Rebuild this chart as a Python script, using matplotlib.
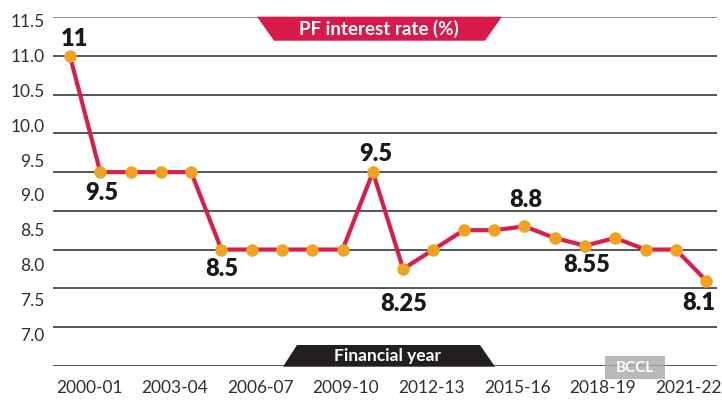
import matplotlib
import matplotlib.pyplot as plt
from matplotlib import patches

matplotlib.use('Agg')

plt.rcParams['font.family'] = ['Lato', 'DejaVu Sans']

years = ['2000-01', '2001-02', '2002-03', '2003-04', '2004-05', '2005-06',
         '2006-07', '2007-08', '2008-09', '2009-10', '2010-11', '2011-12',
         '2012-13', '2013-14', '2014-15', '2015-16', '2016-17', '2017-18',
         '2018-19', '2019-20', '2020-21', '2021-22']
rates = [11, 9.5, 9.5, 9.5, 9.5, 8.5, 8.5, 8.5, 8.5, 8.5, 9.5, 8.25,
         8.5, 8.75, 8.75, 8.8, 8.65, 8.55, 8.65, 8.5, 8.5, 8.1]

grid_vals = [7.0, 7.5, 8.0, 8.5, 9.0, 9.5, 10.0, 10.5, 11.0, 11.5]
y_labels = ['7.0', '7.5', '8.0', '8.5', '9.0', '9.5', '10.0', '10.5', '11.0', '11.5']
x_labels = ['2000-01', '2003-04', '2006-07', '2009-10', '2012-13', '2015-16',
            '2018-19', '2021-22']

# labelled points: index into years, text
ann_idx = [0, 1, 5, 10, 11, 15, 17, 21]
ann_txt = ['11', '9.5', '8.5', '9.5', '8.25', '8.8', '8.55', '8.1']
ann_off = [(3, 12), (1, -15), (0, -14), (2, 13), (0, -25), (1, 19), (1, -14), (-5, -16)]

W, H = 722, 401
fig = plt.figure(figsize=(W / 100, H / 100), dpi=100)
ax = fig.add_axes([53 / W, 1 - 365.7 / H, (717 - 53) / W, (365.7 - 17.3) / H])

def fx(px):
    return px / W

def fy(py):
    return 1 - py / H

# grid lines
ax.set_xlim(-0.561, 21.36)
ax.set_ylim(7.0, 11.5)
ax.set_yticks(grid_vals)
ax.set_xticks([])
ax.tick_params(axis='y', length=0, labelleft=False)
ax.grid(axis='y', color='#555555', linewidth=1.4)
ax.get_ygridlines()[-1].set_color('#8a8a8a')
for s in ax.spines.values():
    s.set_visible(False)
ax.set_axisbelow(True)

ax.plot(range(len(rates)), rates, color='#d91e4b', linewidth=3, zorder=3,
        solid_joinstyle='miter')
ax.plot(range(len(rates)), rates, 'o', color='#f0a321', markersize=8, zorder=4)

for i, t, off in zip(ann_idx, ann_txt, ann_off):
    ax.annotate(t, (i, rates[i]), xytext=off, textcoords='offset points',
                ha='center', va='center', fontsize=17, fontweight='heavy',
                color='#1a1a1a', zorder=5)

# y tick labels (sit on their own scale)
ay = ax.twinx()
ay.set_ylim(6.561, 11.539)
ay.set_yticks(grid_vals)
ay.set_yticklabels(y_labels)
ay.yaxis.set_ticks_position('left')
ay.tick_params(axis='y', length=0, pad=6, labelsize=12.5, labelcolor='#2e2e38')
for s in ay.spines.values():
    s.set_visible(False)

# x tick labels
axx = ax.twiny()
axx.set_xlim(-0.42, 7.33)
axx.set_xticks(range(len(x_labels)))
axx.set_xticklabels(x_labels)
axx.xaxis.set_ticks_position('bottom')
axx.tick_params(axis='x', length=0, pad=10, labelsize=12.5, labelcolor='#2e2e38')
for s in axx.spines.values():
    s.set_visible(False)

# title banner
fig.patches.append(patches.Polygon(
    [(fx(257), fy(16.7)), (fx(502), fy(16.7)), (fx(485), fy(40.7)), (fx(274), fy(40.7))],
    closed=True, transform=fig.transFigure, facecolor='#d8194a', edgecolor='none', zorder=6))
fig.text(fx(379), fy(29), 'PF interest rate (%)', color='white', fontsize=13.5,
         fontweight='bold', ha='center', va='center', zorder=7)

# x axis banner
fig.patches.append(patches.Polygon(
    [(fx(283), fy(366.7)), (fx(297), fy(345)), (fx(480), fy(345)), (fx(495), fy(366.7))],
    closed=True, transform=fig.transFigure, facecolor='#231f20', edgecolor='none', zorder=6))
fig.text(fx(387), fy(356), 'Financial year', color='white', fontsize=12.5,
         fontweight='bold', ha='center', va='center', zorder=7)

# watermark
fig.patches.append(patches.Rectangle(
    (fx(605), fy(379)), fx(60), 23 / H, transform=fig.transFigure,
    facecolor='#a8a8a8', edgecolor='none', alpha=0.8, zorder=6))
fig.text(fx(635), fy(367.5), 'BCCL', color='white', fontsize=11,
         fontweight='bold', ha='center', va='center', zorder=7)

fig.savefig('out.png', dpi=100)
